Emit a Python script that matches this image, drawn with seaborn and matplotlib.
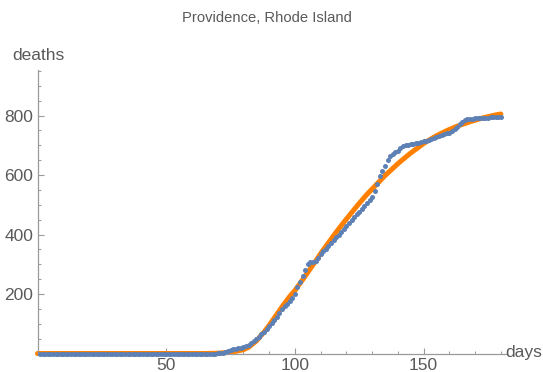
import numpy as np
import pandas as pd
import matplotlib
matplotlib.use("Agg")
import matplotlib.pyplot as plt
import seaborn as sns
from matplotlib.ticker import MultipleLocator

# ---- data ----
title = "Providence, Rhode Island"
x_label = "days"
y_label = "deaths"

days = list(range(1, 181))
deaths = [0] * 69 + [
    1, 2, 3, 5, 8, 11, 14, 16, 18, 19,            # 70-79
    21, 25, 30, 36, 43, 50, 57, 64, 72, 82,       # 80-89
    92, 102, 113, 124, 136, 148, 158, 168, 178, 188,  # 90-99
    200, 222, 240, 262, 282, 300, 306, 307, 312, 322,  # 100-109
    333, 343, 352, 362, 372, 382, 392, 400, 408, 418,  # 110-119
    428, 440, 450, 460, 468, 477, 486, 496, 505, 515,  # 120-129
    525, 545, 570, 595, 612, 630, 650, 664, 670, 676,  # 130-139
    682, 690, 697, 701, 702, 703, 704, 706, 708, 710,  # 140-149
    713, 716, 719, 722, 725, 728, 731, 734, 737, 740,  # 150-159
    742, 748, 755, 762, 770, 778, 785, 788, 789, 789,  # 160-169
    790, 790, 791, 792, 792, 793, 794, 794, 795, 795,  # 170-179
    796,                                            # 180
]

fit_days = [0, 60, 65, 70, 73, 76, 78, 80, 82, 85, 88, 90, 93, 95, 98, 100,
            103, 105, 108, 110, 113, 115, 118, 120, 123, 125, 128, 130, 133,
            135, 138, 140, 143, 145, 148, 150, 153, 155, 158, 160, 163, 165,
            168, 170, 173, 175, 178, 180]
fit_deaths = [0, 0, 0, 1, 3, 6, 9, 13, 21, 42, 72, 95, 132, 157, 192, 212,
              248, 273, 310, 336, 372, 396, 430, 452, 484, 505, 535, 553, 580,
              598, 622, 638, 660, 674, 693, 706, 722, 732, 745, 753, 764, 770,
              779, 784, 792, 796, 802, 805]

pts = pd.DataFrame({"day": days, "deaths": deaths})
fit = pd.DataFrame({"day": fit_days, "deaths": fit_deaths})

# ---- style ----
sns.set_theme(style="ticks")
plt.rcParams["font.family"] = ["Liberation Sans", "DejaVu Sans"]
axis_col = "#9a9a9a"
text_col = "#5a5a5a"

fig = plt.figure(figsize=(5.43, 3.72), dpi=100)
ax = fig.add_axes([37.5 / 543, 1 - 353.5 / 372, (506 - 37.5) / 543, (353.5 - 70) / 372])

sns.lineplot(data=fit, x="day", y="deaths", ax=ax, color="#FF8000",
             linewidth=3.6, zorder=2, clip_on=False)
sns.scatterplot(data=pts, x="day", y="deaths", ax=ax, color="#5E81B5",
                s=13, linewidth=0, zorder=3, clip_on=False)

ax.set_xlim(0, 182)
ax.set_ylim(0, 953)
ax.xaxis.set_major_locator(MultipleLocator(50))
ax.xaxis.set_minor_locator(MultipleLocator(10))
ax.yaxis.set_major_locator(MultipleLocator(200))
ax.yaxis.set_minor_locator(MultipleLocator(50))
ax.set_yticks([200, 400, 600, 800])
ax.set_xticks([50, 100, 150])

for s in ["top", "right"]:
    ax.spines[s].set_visible(False)
for s in ["left", "bottom"]:
    ax.spines[s].set_color(axis_col)
    ax.spines[s].set_linewidth(0.9)

ax.tick_params(which="major", direction="in", length=4, width=0.8,
               color=axis_col, labelcolor=text_col, labelsize=12.5, pad=3)
ax.tick_params(which="minor", direction="in", length=2.5, width=0.7,
               color=axis_col)

ax.set_xlabel("")
ax.set_ylabel("")
fig.text(12 / 543, 1 - 55 / 372, y_label, color=text_col, fontsize=12.5,
         ha="left", va="center")
fig.text(505 / 543, 1 - 353 / 372, x_label, color=text_col, fontsize=12.5,
         ha="left", va="center")
fig.text(267 / 543, 1 - 18 / 372, title, color=text_col, fontsize=10.6,
         ha="center", va="center")

fig.savefig("out.png", dpi=100)
